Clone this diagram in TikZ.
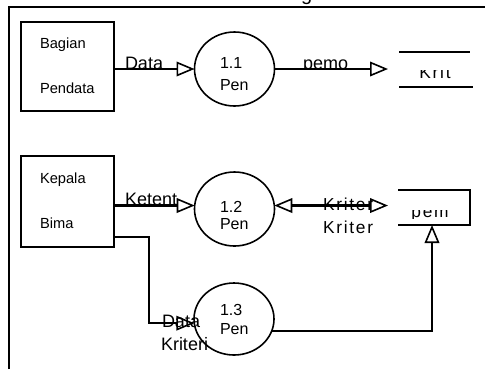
\documentclass[tikz,border=0pt]{standalone}
\usepackage{fontspec}
\setmainfont{Liberation Sans}
\usetikzlibrary{arrows.meta,shapes.geometric,calc}

\tikzset{
  every node/.style={inner sep=0pt, outer sep=0pt},
  entity/.style={draw, line width=1.1pt, minimum width=69.75pt, minimum height=66.75pt},
  proc/.style={draw, ellipse, line width=1.2pt, minimum width=60pt, minimum height=55.5pt},
  store/.style={minimum width=53.25pt, minimum height=26.25pt},
  opentri/.tip={Triangle[open, length=13.5pt, width=11pt, line width=1.2pt]},
  flow/.style={line width=1.6pt, -opentri},
  lbl/.style={font=\fontsize{13.5}{15}\selectfont, anchor=base west},
  spaced/.style={font=\fontsize{13}{15}\selectfont\addfontfeature{LetterSpace=10}},
  boxtxt/.style={font=\fontsize{11}{13}\selectfont, anchor=base west},
  proctxt/.style={font=\fontsize{12}{14}\selectfont, anchor=base west},
}

\begin{document}
\begin{tikzpicture}[x=0.75pt, y=-0.75pt]
\useasboundingbox (0,0) rectangle (485,369);

% frame
\draw[line width=1.2pt] (9,369) -- (9,7) -- (485,7);
\node[font=\fontsize{15}{18}\selectfont, anchor=base west] (ttl) at (301,0) {g};

% external entities
\node[entity, minimum height=66.75pt] (b1) at (67.5,66.5) {};
\node[entity, minimum height=68.25pt] (b2) at (67.5,201.5) {};
\node[boxtxt] (b1a) at (40,48) {Bagian};
\node[boxtxt] (b1b) at (40,93) {Pendata};
\node[boxtxt] (b2a) at (40,183) {Kepala};
\node[boxtxt] (b2b) at (40,228) {Bima};

% processes
\node[proc] (p1) at (234.5,69) {};
\node[proc] (p2) at (234.5,209) {};
\node[proc, minimum height=54pt] (p3) at (234,319) {};
\node[proctxt] (p1a) at (220,68) {1.1};
\node[proctxt] (p1b) at (220,90) {Pen};
\node[proctxt] (p2a) at (220,212) {1.2};
\node[proctxt] (p2b) at (220,229) {Pen};
\node[proctxt] (p3a) at (220,315) {1.3};
\node[proctxt] (p3b) at (220,334) {Pen};

% data stores
\node[store] (s1) at (434.5,69.5) {};
\draw[line width=1.1pt] (s1.north west) -- (s1.north east);
\draw[line width=1.1pt] (s1.south west) -- ($(s1.south east)+(3,0)$);
\node[store, minimum width=54pt] (s2) at (434,207.5) {};
\draw[line width=1.1pt] (s2.north west) -- (s2.north east) -- (s2.south east) -- (s2.south west);
\begin{scope}
  \clip (400,70.5) rectangle (468,79);
  \node[spaced, anchor=base] (s1t) at (435,78) {Krit};
\end{scope}
\begin{scope}
  \clip (400,210.5) rectangle (468,218);
  \node[spaced, anchor=base] (s2t) at (430,217.5) {pem};
\end{scope}

% flow end points
\coordinate (s1in) at ($(s1.west |- p1.east)+(-11,0)$);
\coordinate (s2in) at ($(s2.west |- p2.5)+(-10,0)$);
\coordinate (s2b) at ($(s2.south)+(-2,0)$);
\coordinate (k1) at (149,237);

% flow labels
\node[lbl] (f1) at (125,69) {Data};
\begin{scope}
  \clip (290,40) rectangle (370,69.5);
  \node[lbl] (f2) at (303,69) {pemo};
\end{scope}
\node[lbl] (f3) at (125,205) {Ketent};
\node[spaced, anchor=base west] (f4) at (323,210) {Kriter};
\node[spaced, anchor=base west] (f5) at (323,233) {Kriter};
\node[lbl] (f6) at (162,327) {Data};
\node[lbl] (f7) at (161,350) {Kriteri};

% flows
\draw[flow] (b1.east |- p1.west) -- (p1.west);
\draw[flow] (p1.east) -- (s1in);
\draw[flow] (b2.east |- p2.175) -- (p2.175);
\draw[line width=1.6pt, opentri-opentri] (p2.5) -- (s2in);
\draw[flow] (k1 -| b2.east) -- (k1) |- (p3.186);
\draw[flow] (p3.342) -| (s2b);

\end{tikzpicture}
\end{document}
